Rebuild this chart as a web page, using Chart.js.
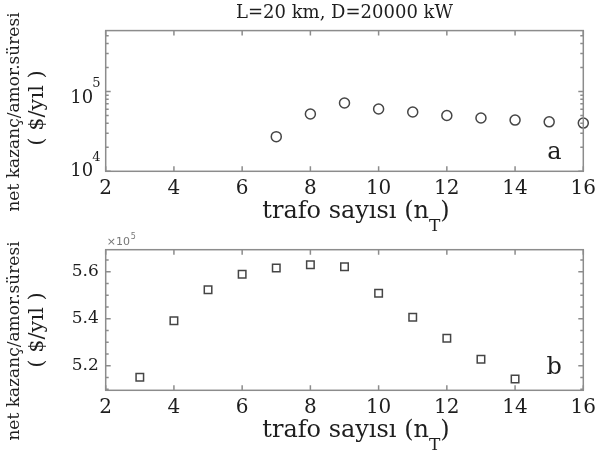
<!DOCTYPE html>
<html lang="tr">
<head>
<meta charset="UTF-8">
<title>net kazanç / trafo sayısı</title>
<script src="https://cdn.jsdelivr.net/npm/chart.js"></script>
<style>
    body {
        margin: 0;
        background: #fff;
    }

    .fig {
        position: relative;
        width: 603px;
        height: 462px;
        overflow: hidden;
        font-family: 'DejaVu Serif', serif;
        color: #1e1e1e;
    }

    canvas {
        position: absolute;
        left: 0;
    }

    #grafA { top: 0; }
    #grafB { top: 230px; }

    .ylab {
        position: absolute;
        white-space: nowrap;
        line-height: 1;
        transform: translate(-50%, -50%) rotate(-90deg);
    }

    .ylab.l1 { font-size: 17px; }
    .ylab.l2 { font-size: 21px; }

    .xlab {
        position: absolute;
        white-space: nowrap;
        line-height: 1;
        font-size: 24px;
        transform: translate(-50%, -50%);
    }

    .xlab sub {
        font-size: 17px;
        vertical-align: -0.75em;
    }
</style>
</head>

<body>
<div class="fig">
    <canvas id="grafA" width="603" height="230"></canvas>
    <canvas id="grafB" width="603" height="232"></canvas>

    <div class="ylab l1" style="left: 13px; top: 112px;">net kazanç/amor.süresi</div>
    <div class="ylab l2" style="left: 36px; top: 108px;">( $/yıl )</div>
    <div class="xlab" style="left: 356px; top: 216px;">trafo sayısı (n<sub>T</sub>)</div>

    <div class="ylab l1" style="left: 13px; top: 341px;">net kazanç/amor.süresi</div>
    <div class="ylab l2" style="left: 36px; top: 330px;">( $/yıl )</div>
    <div class="xlab" style="left: 356px; top: 435px;">trafo sayısı (n<sub>T</sub>)</div>
</div>

<script>
    // grafik a: log eksen, daireler
    const trafoA = [7, 8, 9, 10, 11, 12, 13, 14, 15, 16];
    const kazancA = [27200, 52200, 71900, 60400, 55300, 50100, 46500, 43800, 41700, 40200];

    // grafik b: lineer eksen, kareler
    const trafoB = [3, 4, 5, 6, 7, 8, 9, 10, 11, 12, 13, 14];
    const kazancB = [515100, 539100, 552300, 558900, 561600, 563000, 562100, 550800, 540600, 531700, 522700, 514300];

    const xTicks = [2, 4, 6, 8, 10, 12, 14, 16];
    const yTicksA = [1e4, 1e5];
    const yTicksB = [5.2e5, 5.4e5, 5.6e5];

    const textColor = '#1e1e1e';
    const axisColor = '#8c8c8c';
    const markColor = '#454545';

    // minor ticks
    const minorA = [];
    for (let d = 4; d <= 5; d++) {
        for (let m = 2; m <= 9; m++) minorA.push(m * Math.pow(10, d));
    }
    const minorB = [];
    for (let v = 5.1e5; v <= 5.69e5; v += 5000) minorB.push(v);

    // box + inward ticks, like matlab
    const marco = {
        id: 'marco',
        afterDatasetsDraw(chart, args, opts) {
            const { ctx, chartArea: a, scales } = chart;
            ctx.save();
            ctx.strokeStyle = axisColor;
            ctx.lineWidth = 1.5;
            ctx.beginPath();
            xTicks.forEach(v => {
                const px = scales.x.getPixelForValue(v);
                ctx.moveTo(px, a.bottom); ctx.lineTo(px, a.bottom - 5);
                ctx.moveTo(px, a.top); ctx.lineTo(px, a.top + 5);
            });
            opts.major.forEach(v => {
                const py = scales.y.getPixelForValue(v);
                ctx.moveTo(a.left, py); ctx.lineTo(a.left + 5, py);
                ctx.moveTo(a.right, py); ctx.lineTo(a.right - 5, py);
            });
            opts.minor.forEach(v => {
                if (v > scales.y.max || v < scales.y.min) return;
                const py = scales.y.getPixelForValue(v);
                ctx.moveTo(a.left, py); ctx.lineTo(a.left + 3, py);
                ctx.moveTo(a.right, py); ctx.lineTo(a.right - 3, py);
            });
            ctx.stroke();
            ctx.strokeRect(a.left, a.top, a.right - a.left, a.bottom - a.top);

            // harf a / b
            ctx.fillStyle = textColor;
            ctx.font = '24px "DejaVu Serif"';
            ctx.textAlign = 'center';
            ctx.textBaseline = 'alphabetic';
            ctx.fillText(opts.harf, a.right - 29, a.bottom - opts.harfY);

            // 10^n etiketleri (sadece log grafik)
            if (opts.ustel) {
                opts.major.forEach(v => {
                    const py = scales.y.getPixelForValue(v);
                    const yy = Math.min(py + 6.5, a.bottom + 0.5);
                    ctx.textBaseline = 'middle';
                    ctx.textAlign = 'right';
                    ctx.font = '18px "DejaVu Serif"';
                    ctx.fillText('10', a.left - 12.5, yy);
                    ctx.textAlign = 'left';
                    ctx.font = '13px "DejaVu Serif"';
                    ctx.fillText(String(Math.round(Math.log10(v))), a.left - 13.5, yy - 14);
                });
            }

            // x10^5 carpani
            if (opts.carpan) {
                ctx.fillStyle = '#777';
                ctx.textBaseline = 'middle';
                ctx.textAlign = 'left';
                ctx.font = '11px "DejaVu Sans"';
                ctx.fillText('×10', a.left + 1, a.top - 8);
                ctx.font = '8px "DejaVu Sans"';
                ctx.fillText('5', a.left + 25, a.top - 13);
            }
            ctx.restore();
        }
    };

    function xEkseni(yukseklik) {
        return {
            type: 'linear',
            min: 2,
            max: 16,
            afterBuildTicks: s => { s.ticks = xTicks.map(v => ({ value: v })); },
            afterFit: s => { s.height = yukseklik; },
            grid: { display: false, drawTicks: false },
            border: { display: false },
            ticks: {
                padding: 5,
                color: textColor,
                font: { family: 'DejaVu Serif', size: 20 },
                maxRotation: 0
            }
        };
    }

    new Chart(document.getElementById('grafA'), {
        type: 'scatter',
        data: {
            datasets: [{
                data: trafoA.map((n, i) => ({ x: n, y: kazancA[i] })),
                pointStyle: 'circle',
                pointRadius: 5,
                borderColor: markColor,
                backgroundColor: 'rgba(0,0,0,0)',
                borderWidth: 1.5,
                clip: false
            }]
        },
        options: {
            responsive: false,
            animation: false,
            layout: { padding: { left: 0, right: 19.7, top: 0, bottom: 0 } },
            scales: {
                x: xEkseni(58.7),
                y: {
                    type: 'logarithmic',
                    min: 1e4,
                    max: 5.8e5,
                    afterFit: s => { s.width = 105.7; },
                    grid: { display: false, drawTicks: false },
                    border: { display: false },
                    ticks: { display: false }
                }
            },
            plugins: {
                legend: { display: false },
                tooltip: { enabled: false },
                title: {
                    display: true,
                    fullSize: false,
                    text: 'L=20 km, D=20000 kW',
                    color: textColor,
                    font: { family: 'DejaVu Serif', size: 18, weight: 'normal' },
                    padding: { top: 3, bottom: 6 }
                },
                marco: { major: yTicksA, minor: minorA, harf: 'a', harfY: 12, ustel: true }
            }
        },
        plugins: [marco]
    });

    new Chart(document.getElementById('grafB'), {
        type: 'scatter',
        data: {
            datasets: [{
                data: trafoB.map((n, i) => ({ x: n, y: kazancB[i] })),
                pointStyle: 'rect',
                pointRadius: 5.3,
                borderColor: markColor,
                backgroundColor: 'rgba(0,0,0,0)',
                borderWidth: 1.5,
                clip: false
            }]
        },
        options: {
            responsive: false,
            animation: false,
            layout: { padding: { left: 0, right: 19.7, top: 19.7, bottom: 0 } },
            scales: {
                x: xEkseni(71.7),
                y: {
                    type: 'linear',
                    min: 5.095e5,
                    max: 5.694e5,
                    afterBuildTicks: s => { s.ticks = yTicksB.map(v => ({ value: v })); },
                    afterFit: s => { s.width = 105.7; },
                    grid: { display: false, drawTicks: false },
                    border: { display: false },
                    ticks: {
                        padding: 7,
                        color: textColor,
                        font: { family: 'DejaVu Serif', size: 17 },
                        callback: v => (v / 1e5).toFixed(1)
                    }
                }
            },
            plugins: {
                legend: { display: false },
                tooltip: { enabled: false },
                marco: { major: yTicksB, minor: minorB, harf: 'b', harfY: 16, ustel: false, carpan: true }
            }
        },
        plugins: [marco]
    });
</script>
</body>

</html>
